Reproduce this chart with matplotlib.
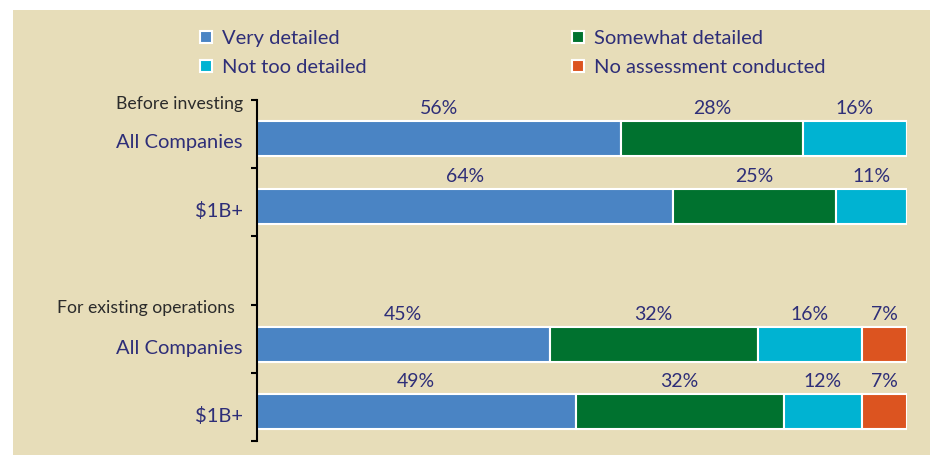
import matplotlib.pyplot as plt
from matplotlib.lines import Line2D
from matplotlib.patches import Rectangle
import numpy as np

plt.rcParams['font.family'] = ['Lato', 'DejaVu Sans']

# data
rows = ['All Companies', '$1B+', 'All Companies', '$1B+']
groups = ['Before investing', 'For existing operations']
series = ['Very detailed', 'Somewhat detailed', 'Not too detailed', 'No assessment conducted']
very = [56, 64, 45, 49]
somewhat = [28, 25, 32, 32]
not_too = [16, 11, 16, 12]
no_assess = [0, 0, 7, 7]

colors = ['#4a84c4', '#00722f', '#00b3d2', '#dc5420']
navy = '#2e2e78'
bg = '#e7ddb9'

ypos = [0.56, 1.56, 3.58, 4.57]   # bar centres in slot units
group_y = [0.06, 3.05]
group_x = [-0.022, -0.034]

fig = plt.figure(figsize=(9.3, 4.55), dpi=100, facecolor='white')
fig.patches.append(Rectangle((13/930, 0), 1 - 13/930, 1 - 10/455,
                             transform=fig.transFigure, facecolor=bg,
                             edgecolor='none', zorder=-10))

ax = fig.add_axes([257/930, 1 - 441/455, 650/930, 341/455])
ax.set_facecolor('none')

left = np.zeros(len(rows))
for vals, c in zip([very, somewhat, not_too, no_assess], colors):
    vals = np.array(vals, dtype=float)
    ax.barh(ypos, vals, left=left, height=0.51, color=c,
            edgecolor='white', linewidth=1.5)
    for y, l, v in zip(ypos, left, vals):
        if v > 0:
            ax.text(l + v / 2, y - 0.44, f'{int(v)}%', ha='center', va='center',
                    fontsize=14, color=navy)
    left += vals

ax.set_xlim(0, 100)
ax.set_ylim(5, 0)
ax.set_yticks(range(6))
ax.set_yticklabels([])
ax.set_xticks([])
for s in ['top', 'right', 'bottom']:
    ax.spines[s].set_visible(False)
ax.spines['left'].set_linewidth(1.5)
ax.tick_params(axis='y', direction='out', length=4, width=1.5)

for y, lab in zip(ypos, rows):
    ax.text(-0.022, y + 0.07, lab, transform=ax.get_yaxis_transform(), ha='right',
            va='center', fontsize=14.5, color=navy)
for y, x, lab in zip(group_y, group_x, groups):
    ax.text(x, y, lab, transform=ax.get_yaxis_transform(), ha='right',
            va='center', fontsize=12.7, color='#2b2b2b')

def handle(c):
    return Line2D([], [], marker='s', linestyle='none', markersize=9,
                  markerfacecolor=c, markeredgecolor='white', markeredgewidth=1.5)

leg_kw = dict(loc='upper left', frameon=False, fontsize=14.5, labelcolor=navy,
              handlelength=0.8, handletextpad=0.4, labelspacing=0.58, borderpad=0)
fig.legend([handle(colors[0]), handle(colors[2])], [series[0], series[2]],
           bbox_to_anchor=(188/930, 1 - 20/455), **leg_kw)
fig.legend([handle(colors[1]), handle(colors[3])], [series[1], series[3]],
           bbox_to_anchor=(560/930, 1 - 20/455), **leg_kw)

fig.savefig('out.png', dpi=100, facecolor=fig.get_facecolor())
